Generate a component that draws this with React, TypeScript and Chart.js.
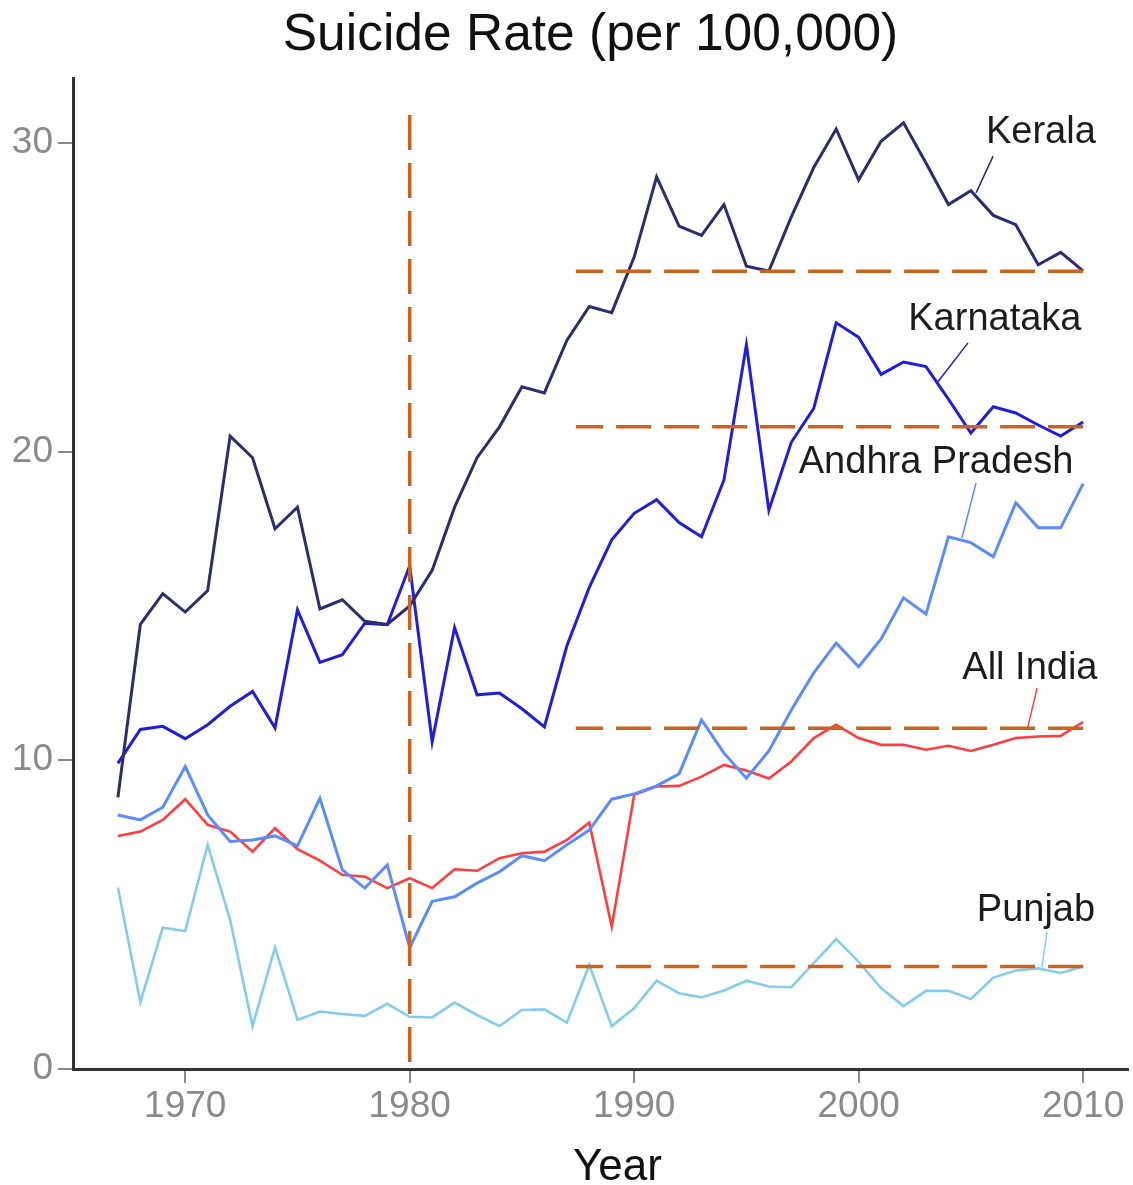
import React, { useEffect, useRef } from 'react';
import { Chart, registerables } from 'chart.js';

Chart.register(...registerables);

const FONT = "'Liberation Sans', Arial, Helvetica, sans-serif";

const years = [
  1967, 1968, 1969, 1970, 1971, 1972, 1973, 1974, 1975, 1976,
  1977, 1978, 1979, 1980, 1981, 1982, 1983, 1984, 1985, 1986,
  1987, 1988, 1989, 1990, 1991, 1992, 1993, 1994, 1995, 1996,
  1997, 1998, 1999, 2000, 2001, 2002, 2003, 2004, 2005, 2006,
  2007, 2008, 2009, 2010,
];

const kerala = [
  8.8, 14.4, 15.4, 14.8, 15.5, 20.5, 19.8, 17.5, 18.2, 14.9,
  15.2, 14.5, 14.4, 15.0, 16.15, 18.2, 19.8, 20.8, 22.1, 21.9,
  23.6, 24.7, 24.5, 26.3, 28.9, 27.3, 27.0, 28.0, 26.0, 25.85,
  27.6, 29.2, 30.45, 28.8, 30.05, 30.65, 29.35, 28.0, 28.45, 27.65,
  27.35, 26.05, 26.45, 25.85,
];

const karnataka = [
  9.9, 11.0, 11.1, 10.7, 11.15, 11.75, 12.23, 11.05, 14.87, 13.17,
  13.42, 14.44, 14.39, 16.3, 10.6, 14.3, 12.12, 12.18, 11.67, 11.08,
  13.7, 15.6, 17.14, 18.0, 18.44, 17.7, 17.24, 19.08, 23.46, 18.1,
  20.3, 21.4, 24.17, 23.7, 22.5, 22.9, 22.75, 21.7, 20.6, 21.45,
  21.25, 20.86, 20.5, 20.96,
];

const andhraPradesh = [
  8.23, 8.07, 8.48, 9.8, 8.23, 7.37, 7.42, 7.55, 7.23, 8.77,
  6.45, 5.86, 6.61, 3.93, 5.43, 5.58, 6.02, 6.39, 6.91, 6.75,
  7.26, 7.74, 8.74, 8.91, 9.17, 9.56, 11.31, 10.23, 9.42, 10.3,
  11.63, 12.83, 13.8, 13.03, 13.93, 15.26, 14.74, 17.24, 17.05, 16.59,
  18.34, 17.53, 17.53, 18.96,
];

const allIndia = [
  7.55, 7.69, 8.07, 8.74, 7.91, 7.69, 7.04, 7.8, 7.12, 6.75,
  6.29, 6.23, 5.86, 6.18, 5.86, 6.47, 6.42, 6.83, 6.99, 7.04,
  7.42, 7.98, 4.61, 8.88, 9.15, 9.17, 9.47, 9.85, 9.67, 9.41,
  9.96, 10.72, 11.15, 10.72, 10.5, 10.5, 10.34, 10.47, 10.3, 10.5,
  10.72, 10.77, 10.79, 11.24,
];

const punjab = [
  5.88, 2.16, 4.58, 4.47, 7.26, 4.83, 1.39, 3.94, 1.59, 1.86,
  1.78, 1.72, 2.11, 1.69, 1.67, 2.15, 1.75, 1.39, 1.91, 1.93,
  1.5, 3.37, 1.39, 1.97, 2.86, 2.45, 2.32, 2.54, 2.86, 2.67,
  2.65, 3.43, 4.21, 3.47, 2.62, 2.04, 2.53, 2.53, 2.27, 2.96,
  3.19, 3.26, 3.11, 3.32,
];

const xTicks = [1970, 1980, 1990, 2000, 2010];
const yTicks = [0, 10, 20, 30];

// 2010 reference levels (Kerala, Karnataka, All India, Punjab)
const referenceLevels = [25.84, 20.8, 11.04, 3.32];
const referenceSpan = [2010, 1987.4];
const breakYear = 1980;
const breakSpan = [30.9, 0];

const seriesNames = ['Kerala', 'Karnataka', 'Andhra Pradesh', 'All India', 'Punjab'];
const seriesValues = [kerala, karnataka, andhraPradesh, allIndia, punjab];
const seriesColors = ['#2b2d6e', '#1f1fd8', '#5a8cff', '#ff3d3d', '#84cdea'];
const seriesWidths = [3, 3, 3, 2.6, 2.6];

// label placement (data coordinates): text centre, leader start, leader end
const labelAt = [
  [2008.12, 30.32], [2006.07, 24.29], [2003.45, 19.63], [2007.63, 12.96], [2007.9, 5.12],
];
const leaderLines = [
  [2005.99, 29.57, 2005.23, 28.38],
  [2004.87, 23.52, 2003.49, 22.22],
  [2005.23, 18.98, 2004.6, 17.2],
  [2007.95, 12.34, 2007.54, 11.08],
  [2008.39, 4.44, 2008.17, 3.3],
];

const TITLE = 'Suicide Rate (per 100,000)';
const X_TITLE = 'Year';
const DASH_COLOR = '#c9631d';

const labelPlugin = {
  id: 'seriesLabels',
  afterLayout(chart: any) {
    // centre the title over the plot + tick label region
    if (chart.titleBlock) {
      chart.titleBlock.left = 53;
      chart.titleBlock.right = chart.chartArea.right;
    }
  },
  afterDatasetsDraw(chart: any) {
    const { ctx, chartArea } = chart;
    const xs = chart.scales.x;
    const ys = chart.scales.y;
    ctx.save();
    seriesNames.forEach((name, i) => {
      const l = leaderLines[i];
      ctx.strokeStyle = seriesColors[i];
      ctx.lineWidth = 1.5;
      ctx.beginPath();
      ctx.moveTo(xs.getPixelForValue(l[0]), ys.getPixelForValue(l[1]));
      ctx.lineTo(xs.getPixelForValue(l[2]), ys.getPixelForValue(l[3]));
      ctx.stroke();
      ctx.fillStyle = '#1c1c1c';
      ctx.font = `38px ${FONT}`;
      ctx.textAlign = 'center';
      ctx.textBaseline = 'middle';
      ctx.fillText(name, xs.getPixelForValue(labelAt[i][0]), ys.getPixelForValue(labelAt[i][1]));
    });
    // x axis title
    ctx.fillStyle = '#111';
    ctx.font = `44px ${FONT}`;
    ctx.textAlign = 'center';
    ctx.textBaseline = 'middle';
    ctx.fillText(X_TITLE, (chartArea.left + chartArea.right) / 2 + 17, chartArea.bottom + 99);
    ctx.restore();
  },
};

export default function App() {
  const ref = useRef<HTMLCanvasElement>(null);

  useEffect(() => {
    if (!ref.current) return;
    Chart.defaults.font.family = FONT;

    const seriesDatasets = seriesNames.map((name, i) => ({
      label: name,
      data: years.map((yr, j) => ({ x: yr, y: seriesValues[i][j] })),
      borderColor: seriesColors[i],
      borderWidth: seriesWidths[i],
      pointRadius: 0,
      tension: 0,
      fill: false,
      order: 2,
    }));

    const refDatasets = referenceLevels.map((lv, i) => ({
      label: 'level ' + i,
      data: referenceSpan.map((yr) => ({ x: yr, y: lv })),
      borderColor: DASH_COLOR,
      borderWidth: 3.5,
      borderDash: [35, 13],
      pointRadius: 0,
      fill: false,
      order: 1,
    }));

    const breakDataset = {
      label: 'break',
      data: breakSpan.map((v) => ({ x: breakYear, y: v })),
      borderColor: DASH_COLOR,
      borderWidth: 3.5,
      borderDash: [35, 13],
      pointRadius: 0,
      fill: false,
      order: 1,
    };

    const chart = new Chart(ref.current, {
      type: 'line',
      data: { datasets: [breakDataset, ...refDatasets, ...seriesDatasets] as any },
      options: {
        animation: false,
        responsive: false,
        maintainAspectRatio: false,
        layout: { padding: { left: 0, right: 5, top: 0, bottom: 0 } },
        plugins: {
          legend: { display: false },
          tooltip: { enabled: false },
          title: {
            display: true,
            text: TITLE,
            color: '#111',
            font: { size: 51.5, weight: 'normal', family: FONT, lineHeight: 1.2 },
            padding: { top: 5, bottom: 11.2 },
          },
        },
        scales: {
          x: {
            type: 'linear',
            min: 1965,
            max: 2012,
            afterBuildTicks: (s: any) => {
              s.ticks = xTicks.map((v) => ({ value: v }));
            },
            afterFit: (s: any) => {
              s.height = 116;
            },
            grid: {
              display: true,
              drawOnChartArea: false,
              drawTicks: true,
              tickLength: 14,
              tickColor: '#8a8a8a',
              lineWidth: 2,
            },
            border: { display: true, color: '#333', width: 3 },
            ticks: {
              color: '#8a8a8a',
              font: { size: 37, family: FONT },
              padding: 2,
              maxRotation: 0,
              autoSkip: false,
              callback: (v: any) => String(v),
            },
          },
          y: {
            type: 'linear',
            min: 0,
            max: 32.1,
            afterBuildTicks: (s: any) => {
              s.ticks = yTicks.map((v) => ({ value: v }));
            },
            afterFit: (s: any) => {
              s.width = 73;
            },
            grid: {
              display: true,
              drawOnChartArea: false,
              drawTicks: true,
              tickLength: 15,
              tickColor: '#8a8a8a',
              lineWidth: 2,
            },
            border: { display: true, color: '#333', width: 3 },
            ticks: {
              color: '#8a8a8a',
              font: { size: 37, family: FONT },
              padding: 5,
              callback: (v: any) => String(v),
            },
          },
        },
      } as any,
      plugins: [labelPlugin],
    });

    return () => chart.destroy();
  }, []);

  return (
    <div style={{ position: 'absolute', left: 0, top: 0, width: 1133, height: 1185, background: '#fff' }}>
      <canvas ref={ref} width={1133} height={1185} style={{ display: 'block', width: 1133, height: 1185 }} />
    </div>
  );
}
